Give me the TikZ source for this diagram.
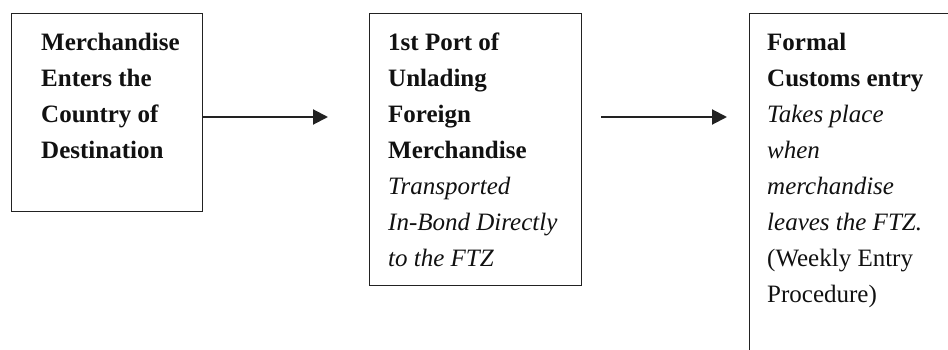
\documentclass[tikz,border=0pt]{standalone}
\usepackage{fontspec}
\setmainfont{Liberation Serif}
\usetikzlibrary{arrows.meta}
\definecolor{ink}{HTML}{111111}
\definecolor{frame}{HTML}{222222}
\tikzset{
  stagebox/.style={draw=frame, line width=1.3pt, rectangle, inner sep=0pt, anchor=north west},
  stagetext/.style={anchor=base west, inner sep=0pt, text=ink, font=\fontsize{25}{36}\selectfont},
  flow/.style={draw=frame, line width=2pt, -{Triangle[length=15pt,width=15pt]}},
}
\newcommand{\stagelines}[1]{\parbox[t]{220pt}{\fontsize{25}{36}\selectfont\raggedright #1}}
\begin{document}
\begin{tikzpicture}[x=1pt,y=-1pt]
  \useasboundingbox (0,0) rectangle (948,350);
  \clip (0,0) rectangle (948,350);
  \fill[white] (0,0) rectangle (948,350);

  % stage boxes
  \node[stagebox, minimum width=191pt, minimum height=198pt] (b1) at (11,13) {};
  \node[stagebox, minimum width=212pt, minimum height=272pt] (b2) at (369,13) {};
  \node[stagebox, minimum width=240pt, minimum height=360pt] (b3) at (749,13) {};

  % stage texts
  \node[stagetext] (t1) at (41,51) {\stagelines{\textbf{Merchandise}\\\textbf{Enters the}\\\textbf{Country of}\\\textbf{Destination}}};
  \node[stagetext] (t2) at (388,51) {\stagelines{\textbf{1st Port of}\\\textbf{Unlading}\\\textbf{Foreign}\\\textbf{Merchandise}\\\textit{Transported}\\\textit{In-Bond Directly}\\\textit{to the FTZ}}};
  \node[stagetext] (t3) at (767,51) {\stagelines{\textbf{Formal}\\\textbf{Customs entry}\\\textit{Takes place}\\\textit{when}\\\textit{merchandise}\\\textit{leaves the FTZ.}\\(Weekly Entry\\Procedure)}};

  % flow arrows
  \coordinate (a1end) at (328,117);
  \coordinate (a2start) at (601,117);
  \coordinate (a2end) at (727,117);
  \draw[flow] (b1.east |- a1end) -- (a1end);
  \draw[flow] (a2start) -- (a2end);
\end{tikzpicture}
\end{document}
